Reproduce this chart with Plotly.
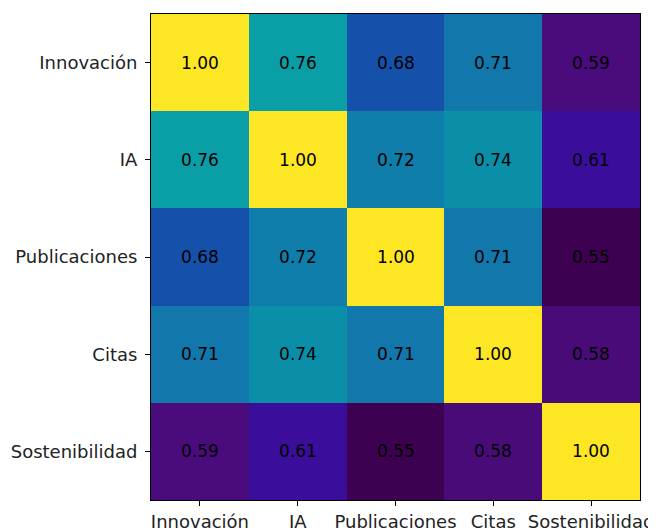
import plotly.graph_objects as go

labels = ["Innovación", "IA", "Publicaciones", "Citas", "Sostenibilidad"]
row_innovacion = [1.00, 0.76, 0.68, 0.71, 0.59]
row_ia = [0.76, 1.00, 0.72, 0.74, 0.61]
row_publicaciones = [0.68, 0.72, 1.00, 0.71, 0.55]
row_citas = [0.71, 0.74, 0.71, 1.00, 0.58]
row_sostenibilidad = [0.59, 0.61, 0.55, 0.58, 1.00]

z = [row_innovacion, row_ia, row_publicaciones, row_citas, row_sostenibilidad]

zmin = 0.55
zmax = 1.00
# colour stops (value, colour)
stop_values = [0.55, 0.58, 0.59, 0.61, 0.68, 0.71, 0.72, 0.74, 0.76, 0.88, 1.00]
stop_colors = ["#3e0050", "#480b78", "#4a0c7c", "#3a0e9a", "#1551ab", "#1277ab",
               "#0f7eaa", "#0b8fa8", "#0a9ea6", "#3fc070", "#fde725"]
colorscale = [[(v - zmin) / (zmax - zmin), c] for v, c in zip(stop_values, stop_colors)]

fig = go.Figure(
    go.Heatmap(
        z=z,
        x=labels,
        y=labels,
        colorscale=colorscale,
        zmin=zmin,
        zmax=zmax,
        showscale=False,
        texttemplate="%{z:.2f}",
        textfont=dict(family="DejaVu Sans", size=17, color="black"),
        xgap=0,
        ygap=0,
    )
)

axis_common = dict(
    showline=True,
    linecolor="black",
    linewidth=1,
    mirror=True,
    ticks="outside",
    ticklen=5,
    tickwidth=1,
    tickcolor="black",
    showgrid=False,
    zeroline=False,
    automargin=False,
    tickfont=dict(family="DejaVu Sans", size=18, color="#222"),
)

fig.update_layout(
    width=656,
    height=529,
    margin=dict(l=143, r=24, t=6, b=37),
    paper_bgcolor="white",
    plot_bgcolor="white",
    xaxis=dict(**axis_common, ticklabelstandoff=0),
    yaxis=dict(**axis_common, autorange="reversed", ticklabelstandoff=4),
)

fig.write_html("out.html")
